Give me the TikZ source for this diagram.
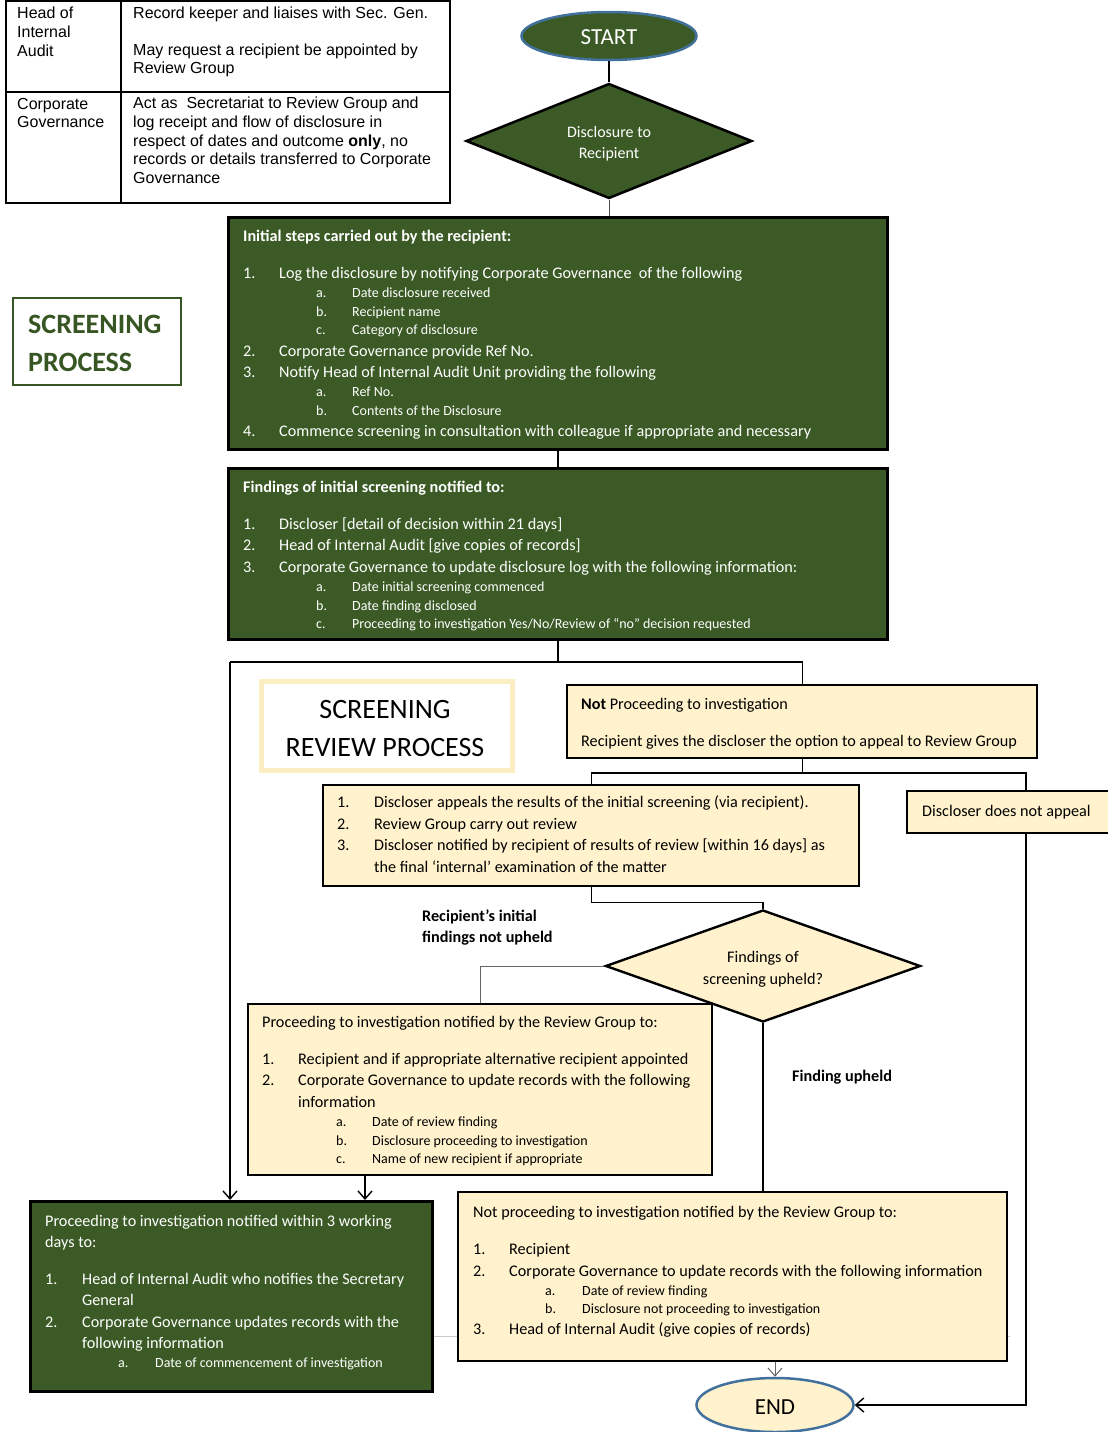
\documentclass[tikz,border=0pt]{standalone}
\usepackage{fontspec}
\setmainfont{Carlito}
\newfontfamily\arialf{Liberation Sans}
\usetikzlibrary{shapes.geometric,arrows.meta,calc}
\definecolor{dg}{HTML}{3B5A25}
\definecolor{cr}{HTML}{FFF2CC}
\definecolor{crb}{HTML}{FBEEC2}
\definecolor{eb}{HTML}{41719C}
\definecolor{gt}{HTML}{375623}
\newcommand\fm{\fontsize{16.2}{19}\selectfont}
\newcommand\fs{\fontsize{14}{17}\selectfont}
\newcommand\ft{\arialf\fontsize{16}{19}\selectfont}
\newcounter{lncnt}
\newcommand\putline[4][]{\stepcounter{lncnt}\node[tl,#1] (ln\arabic{lncnt}) at (#2,#3) {#4};}
\newcommand\putitem[6][]{\putline[#1]{#2}{#4}{#5}\putline[#1]{#3}{#4}{#6}}
\begin{document}
\begin{tikzpicture}[x=1pt,y=-1pt,
  tl/.style={anchor=base west,inner sep=0pt},
  gbox/.style={draw=black,line width=2.8pt,fill=dg,anchor=north west,inner sep=0pt},
  cbox/.style={draw=black,line width=2.4pt,fill=cr,anchor=north west,inner sep=0pt},
  conn/.style={line width=1.4pt,black},
  thinc/.style={line width=1pt,black!60},
  arr/.style={-{Straight Barb[length=8pt,width=14pt]}},
]
\useasboundingbox (0,0) rectangle (1108,1432);
\fill[white] (0,0) rectangle (1108,1432);

% ---- table ----
\draw[line width=1.5pt] (6,1) rectangle (450,203);
\draw[line width=2pt] (6,92) -- (450,92);
\draw[line width=1.5pt] (121,1) -- (121,203);
\begin{scope}[every node/.append style={font=\ft}]
\putline{17}{19}{Head of}
\putline{17}{37}{Internal}
\putline{17}{56}{Audit}
\putline{133}{19}{Record keeper and liaises with Sec. Gen.}
\putline{133}{55}{May request a recipient be appointed by}
\putline{133}{73}{Review Group}
\putline{17}{109}{Corporate}
\putline{17}{127}{Governance}
\putline{133}{108}{Act as\ \ Secretariat to Review Group and}
\putline{133}{127}{log receipt and flow of disclosure in}
\putline{133}{146}{respect of dates and outcome \textbf{only}, no}
\putline{133}{164}{records or details transferred to Corporate}
\putline{133}{183}{Governance}
\end{scope}

% ---- faint page rule ----
\draw[black!20,line width=1pt] (432,1336) -- (1010,1336);

% ---- shapes ----
\node[ellipse,draw=eb,line width=2.5pt,fill=dg,minimum width=175pt,minimum height=48pt,inner sep=0pt] (start) at (609,36) {};
\node[diamond,draw=black,line width=2.5pt,fill=dg,minimum width=286pt,minimum height=115pt,inner sep=0pt] (d1) at (609,141) {};
\node[gbox,minimum width=659pt,minimum height=232pt] (b1) at (227,216) {};
\node[gbox,minimum width=659pt,minimum height=171pt] (b2) at (227,467) {};
\node[draw=gt,line width=2pt,anchor=north west,minimum width=168pt,minimum height=87pt,inner sep=0pt] (spb) at (12,297) {};
\node[draw=crb,line width=5pt,fill=white,anchor=north west,minimum width=251pt,minimum height=89pt,inner sep=0pt] (srp) at (259,679) {};
\node[cbox,minimum width=470pt,minimum height=73pt] (np) at (566,684) {};
\node[cbox,minimum width=536pt,minimum height=101pt] (ap) at (322,784) {};
\node[cbox,minimum width=206pt,minimum height=42pt] (dna) at (906,790) {};
\node[diamond,draw=black,line width=2.4pt,fill=cr,minimum width=315pt,minimum height=112pt,inner sep=0pt] (d2) at (763,966) {};
\node[cbox,minimum width=464pt,minimum height=171pt] (pr) at (247,1003) {};
\node[gbox,minimum width=402pt,minimum height=190pt] (g3) at (29,1200) {};
\node[cbox,minimum width=549pt,minimum height=169pt] (nrg) at (457,1191) {};
\node[ellipse,draw=eb,line width=2.5pt,fill=cr,minimum width=157pt,minimum height=54pt,inner sep=0pt] (end) at (775,1405) {};

% ---- shape texts ----
\node[inner sep=0pt,text=white,font=\fontsize{23}{26}\selectfont] (starttxt) at (609,37) {START};
\node[inner sep=0pt,text=white,align=center,font=\fontsize{16}{21}\selectfont] (d1txt) at (609,144) {Disclosure to\\Recipient};
\node[inner sep=0pt,align=center,font=\fontsize{16.2}{22}\selectfont] (d2txt) at (763,969) {Findings of\\screening upheld?};
\node[inner sep=0pt,font=\fontsize{23}{26}\selectfont] (endtxt) at (775,1407) {END};

% ---- connectors ----
\coordinate (jA) at (230,662);
\coordinate (jD) at (1026,773);
\coordinate (xa) at (365,0);
\draw[conn] (start.south) -- (d1.north);
\draw[line width=0.8pt,black!70] (d1.south) -- (b1.north -| d1.south);
\draw[conn] (b1.south) -- (b2.north);
\draw[conn] (b2.south) -- (b2.south |- jA);
\draw[conn] (jA) -- (jA -| np.north) -- (np.north);
\draw[conn,arr] (jA) -- (jA |- g3.north);
\draw[conn] (np.south) -- (np.south |- jD);
\draw[conn] (ap.north) |- (jD) -- (jD |- dna.north);
\draw[conn,arr] (jD |- dna.south) -- (jD |- end.east) -- (end.east);
\draw[conn] (ap.south) -- ++(0,15) -| (d2.north);
\draw[thinc] (d2.west) -| (pr.north);
\draw[conn,arr] (pr.south -| xa) -- (g3.north -| xa);
\draw[conn] (d2.south) -- (d2.south |- nrg.north);
\draw[thinc,arr] (nrg.south -| end.north) -- (end.north);

% ---- titles ----
\begin{scope}[every node/.append style={font=\fontsize{28}{32}\selectfont\bfseries,text=gt}]
\putline{28}{333}{SCREENING}
\putline{28}{371}{PROCESS}
\end{scope}
\node[anchor=base,inner sep=0pt,font=\fontsize{28}{32}\selectfont] (srp1) at (385,718) {SCREENING};
\node[anchor=base,inner sep=0pt,font=\fontsize{28}{32}\selectfont] (srp2) at (385,756) {REVIEW PROCESS};

% ---- green box 1 ----
\begin{scope}[every node/.append style={font=\fm,text=white}]
\putline{243}{241}{\textbf{Initial steps carried out by the recipient:}}
\putitem{243}{279}{278}{1.}{Log the disclosure by notifying Corporate Governance\ \ of the following}
\putitem[font=\fs]{316}{352}{297}{a.}{Date disclosure received}
\putitem[font=\fs]{316}{352}{316}{b.}{Recipient name}
\putitem[font=\fs]{316}{352}{334}{c.}{Category of disclosure}
\putitem{243}{279}{356}{2.}{Corporate Governance provide Ref No.}
\putitem{243}{279}{377}{3.}{Notify Head of Internal Audit Unit providing the following}
\putitem[font=\fs]{316}{352}{396}{a.}{Ref No.}
\putitem[font=\fs]{316}{352}{415}{b.}{Contents of the Disclosure}
\putitem{243}{279}{436}{4.}{Commence screening in consultation with colleague if appropriate and necessary}
% green box 2
\putline{243}{492}{\textbf{Findings of initial screening notified to:}}
\putitem{243}{279}{529}{1.}{Discloser [detail of decision within 21 days]}
\putitem{243}{279}{550}{2.}{Head of Internal Audit [give copies of records]}
\putitem{243}{279}{572}{3.}{Corporate Governance to update disclosure log with the following information:}
\putitem[font=\fs]{316}{352}{591}{a.}{Date initial screening commenced}
\putitem[font=\fs]{316}{352}{610}{b.}{Date finding disclosed}
\putitem[font=\fs]{316}{352}{628}{c.}{Proceeding to investigation Yes/No/Review of “no” decision requested}
% green box 3
\putline{45}{1226}{Proceeding to investigation notified within 3 working}
\putline{45}{1247}{days to:}
\putitem{45}{82}{1284}{1.}{Head of Internal Audit who notifies the Secretary}
\putline{82}{1305}{General}
\putitem{45}{82}{1327}{2.}{Corporate Governance updates records with the}
\putline{82}{1348}{following information}
\putitem[font=\fs]{118}{155}{1367}{a.}{Date of commencement of investigation}
\end{scope}

% ---- cream boxes text ----
\begin{scope}[every node/.append style={font=\fm,text=black}]
\putline{581}{709}{\textbf{Not} Proceeding to investigation}
\putline{581}{746}{Recipient gives the discloser the option to appeal to Review Group}
\putitem{337}{374}{807}{1.}{Discloser appeals the results of the initial screening (via recipient).}
\putitem{337}{374}{829}{2.}{Review Group carry out review}
\putitem{337}{374}{850}{3.}{Discloser notified by recipient of results of review [within 16 days] as}
\putline{374}{872}{the final ‘internal’ examination of the matter}
\putline{922}{816}{Discloser does not appeal}
\putline{422}{921}{\textbf{Recipient’s initial}}
\putline{422}{942}{\textbf{findings not upheld}}
\putline{792}{1081}{\textbf{Finding upheld}}
% proceeding box
\putline{262}{1027}{Proceeding to investigation notified by the Review Group to:}
\putitem{262}{298}{1064}{1.}{Recipient and if appropriate alternative recipient appointed}
\putitem{262}{298}{1085}{2.}{Corporate Governance to update records with the following}
\putline{298}{1107}{information}
\putitem[font=\fs]{336}{372}{1126}{a.}{Date of review finding}
\putitem[font=\fs]{336}{372}{1145}{b.}{Disclosure proceeding to investigation}
\putitem[font=\fs]{336}{372}{1163}{c.}{Name of new recipient if appropriate}
% not proceeding RG box
\putline{473}{1217}{Not proceeding to investigation notified by the Review Group to:}
\putitem{473}{509}{1254}{1.}{Recipient}
\putitem{473}{509}{1276}{2.}{Corporate Governance to update records with the following information}
\putitem[font=\fs]{545}{582}{1295}{a.}{Date of review finding}
\putitem[font=\fs]{545}{582}{1313}{b.}{Disclosure not proceeding to investigation}
\putitem{473}{509}{1334}{3.}{Head of Internal Audit (give copies of records)}
\end{scope}
\end{tikzpicture}
\end{document}
